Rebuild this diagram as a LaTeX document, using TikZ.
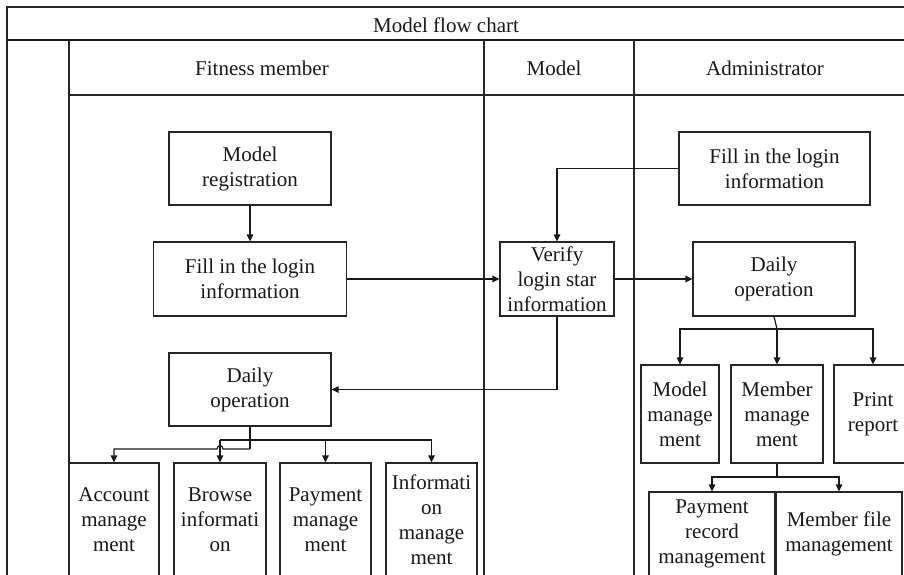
\documentclass[tikz,border=0pt]{standalone}
\usepackage{fontspec}
\setmainfont{Liberation Serif}
\usetikzlibrary{arrows.meta,calc}
\begin{document}
\begin{tikzpicture}[x=1pt,y=-1pt,
  box/.style={draw=black!85, line width=1.2pt, align=center, inner sep=0pt, fill=white,
              font=\fontsize{21}{25}\selectfont, text=black!90},
  lbl/.style={font=\fontsize{21}{25}\selectfont, inner sep=0pt, text=black!90},
  arr/.style={-{Triangle[length=7pt,width=6.5pt]}, line width=1.2pt, draw=black!90},
  con/.style={line width=1.2pt, draw=black!90},
  lane/.style={line width=1.3pt, draw=black!85},
  thick lane/.style={line width=2pt, draw=black!90}]
\useasboundingbox (0,0) rectangle (904,575);
\clip (0,0) rectangle (904,575);

% swimlane frame
\draw[lane] (7,580) -- (7,7) -- (910,7);
\draw[thick lane] (7,40) -- (910,40);
\draw[lane] (69,40) -- (69,580);
\draw[lane] (69,95) -- (910,95);
\draw[lane] (484,40) -- (484,580);
\draw[lane] (634,40) -- (634,580);

\node[lbl] (title) at (446,25) {Model flow chart};
\node[lbl] (hfit) at (262,68) {Fitness member};
\node[lbl] (hmod) at (554,68) {Model};
\node[lbl] (hadm) at (765,68) {Administrator};

% Fitness member lane
\node[box, minimum width=162, minimum height=73] (reg) at (250,168.5) {Model\\registration};
\node[box, minimum width=193, minimum height=74] (fillL) at (250,279) {Fill in the login\\information};
\node[box, minimum width=162, minimum height=73] (dailyL) at (250,389.5) {Daily\\operation};
\node[box, minimum width=90, minimum height=114] (acc) at (114,520) {Account\\manage\\ment};
\node[box, minimum width=92, minimum height=114] (browse) at (220,520) {Browse\\informati\\on};
\node[box, minimum width=91, minimum height=114] (pay) at (325.5,520) {Payment\\manage\\ment};
\node[box, minimum width=91, minimum height=114] (info) at (431.5,520) {Informati\\on\\manage\\ment};

% Model lane
\node[box, minimum width=114, minimum height=74] (verify) at (557,279) {Verify\\login star\\information};

% Administrator lane
\node[box, minimum width=191, minimum height=73] (fillA) at (774.5,168.5) {Fill in the login\\information};
\node[box, minimum width=162, minimum height=74] (dailyA) at (774,279) {Daily\\operation};
\node[box, minimum width=78, minimum height=98] (modelM) at (680,414) {Model\\manage\\ment};
\node[box, minimum width=92, minimum height=98] (memberM) at (777,414) {Member\\manage\\ment};
\node[box, minimum width=78, minimum height=98] (print) at (873,414) {Print\\report};
\node[box, minimum width=126, minimum height=84] (payrec) at (712,534) {Payment\\record\\management};
\node[box, minimum width=126, minimum height=84] (memfile) at (839,534) {Member file\\management};

% connectors
\draw[arr] (reg.south) -- (fillL.north);
\draw[arr] (fillL.east) -- (verify.west);
\draw[arr] (verify.east) -- (dailyA.west);
\draw[arr] (fillA.west) -| (verify.north);
\draw[arr] (verify.south) |- (dailyL.east);

\coordinate (jL) at (250,440);
\coordinate (jL2) at (250,449);
\coordinate (hopR) at (223,449);
\coordinate (hopL) at (217,449);
\draw[con] (dailyL.south) -- (jL2);
\draw[con] (jL -| browse.north) -- (jL -| info.north);
\draw[arr] (jL -| browse.north) -- (browse.north);
\draw[arr] (jL -| pay.north) -- (pay.north);
\draw[arr] (jL -| info.north) -- (info.north);
\draw[arr] (jL2) -- (hopR) .. controls (223,444.5) and (217,444.5) .. (hopL) -| (acc.north);

\coordinate (jA) at (777,329);
\draw[con] (dailyA.south) -- (jA);
\draw[arr] (jA) -- (memberM.north);
\draw[arr] (jA) -| (modelM.north);
\draw[arr] (jA) -| (print.north);

\coordinate (jM) at (777,477);
\draw[con] (memberM.south) -- (jM);
\draw[arr] (jM) -| (payrec.north);
\draw[arr] (jM) -| (memfile.north);
\end{tikzpicture}
\end{document}
